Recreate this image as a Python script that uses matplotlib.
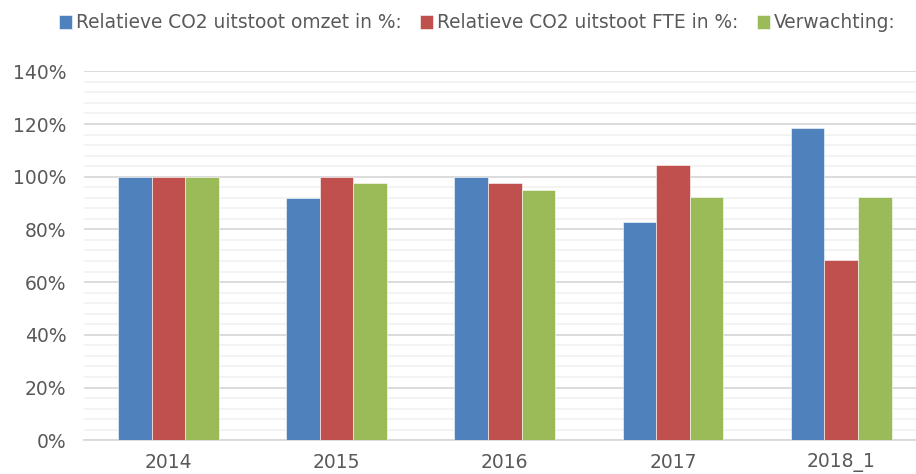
import numpy as np
import matplotlib
matplotlib.use('Agg')
import matplotlib.pyplot as plt
from matplotlib.ticker import MultipleLocator, FuncFormatter

# ── Data ───────────────────────────────────────────────────
years = ['2014', '2015', '2016', '2017', '2018_1']
omzet = [100, 91.8, 100, 82.8, 118.6]        # Relatieve CO2 uitstoot omzet in %
fte = [100, 100, 97.5, 104.3, 68.4]          # Relatieve CO2 uitstoot FTE in %
verwachting = [100, 97.5, 94.8, 92.2, 92.2]  # Verwachting

series = [
    ('Relatieve CO2 uitstoot omzet in %:', omzet, '#4F81BD'),
    ('Relatieve CO2 uitstoot FTE in %:', fte, '#C0504D'),
    ('Verwachting:', verwachting, '#9BBB59'),
]

txt = '#595959'

# ── Plot ───────────────────────────────────────────────────
fig = plt.figure(figsize=(9.16, 4.74), dpi=100)
ax = fig.add_axes([84.3 / 916, 33.8 / 474, 841 / 916, 368.9 / 474])

x = np.arange(len(years))
w = 0.2
for i, (label, vals, col) in enumerate(series):
    ax.bar(x + (i - 1) * w, vals, w, color=col, label=label,
           edgecolor='white', linewidth=0.4, zorder=3)

ax.set_xlim(-0.5, len(years) - 0.5)
ax.set_ylim(0, 140)
ax.yaxis.set_major_locator(MultipleLocator(20))
ax.yaxis.set_minor_locator(MultipleLocator(4))
ax.yaxis.set_major_formatter(FuncFormatter(lambda v, p: f'{v:.0f}%'))
ax.grid(axis='y', which='major', color='#d9d9d9', linewidth=1.3, zorder=0)
ax.grid(axis='y', which='minor', color='#f2f2f2', linewidth=1.3, zorder=0)

ax.set_xticks(x)
ax.set_xticklabels(years)
ax.tick_params(axis='both', which='both', length=0, colors=txt, labelsize=13.5)
ax.tick_params(axis='x', pad=9)
ax.tick_params(axis='y', pad=13)

for s in ['top', 'right', 'left']:
    ax.spines[s].set_visible(False)
ax.spines['bottom'].set_color('#d9d9d9')
ax.spines['bottom'].set_linewidth(1.3)

leg = fig.legend(loc='center', bbox_to_anchor=(477 / 916, 1 - 23 / 474), ncol=3,
                 frameon=False, fontsize=13.4, handlelength=0.7, handleheight=0.7,
                 handletextpad=0.2, columnspacing=1.0, borderaxespad=0)
for t in leg.get_texts():
    t.set_color(txt)

plt.savefig('out.png', dpi=100)
